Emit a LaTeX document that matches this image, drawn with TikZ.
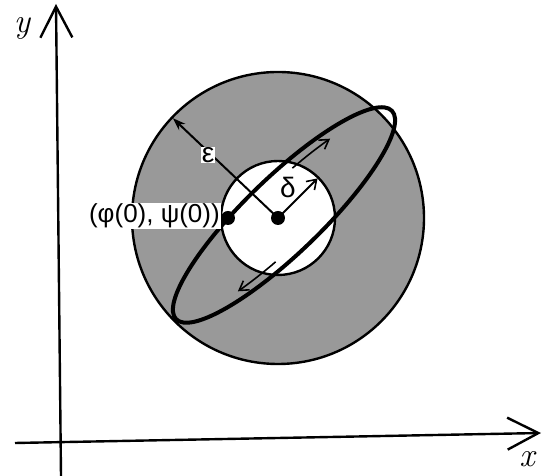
\documentclass[tikz,border=0pt]{standalone}
\usepackage{fontspec}
\newfontfamily\lab{Liberation Sans}
\usetikzlibrary{arrows.meta}
\definecolor{ringgray}{gray}{0.6}
\begin{document}
\begin{tikzpicture}[x=1pt,y=1pt,
  axis/.style={line width=2.4pt, -{Straight Barb[length=31pt,width=32pt,line width=2.4pt]}},
  ringline/.style={line width=2.4pt},
  orbit/.style={line width=4pt},
  radarrow/.style={line width=2pt},
  dirarrow/.style={line width=1.6pt, -{Straight Barb[length=9pt,width=11pt,line width=1.6pt]}},
  dotnode/.style={circle, fill=black, inner sep=0pt, minimum size=14pt},
  lbl/.style={font=\lab\fontsize{26}{30}\selectfont, fill=white, inner sep=1pt},
  glbl/.style={font=\lab\fontsize{28}{32}\selectfont, fill=white, inner sep=0.5pt},
  axlbl/.style={font=\itshape\fontsize{34}{38}\selectfont, inner sep=0pt},
]
\useasboundingbox (0,0) rectangle (542,476);
% axes
\coordinate (yb) at (61,0);
\coordinate (yt) at (56,472);
\coordinate (xl) at (15,33);
\coordinate (xr) at (541,43);
\draw[axis] (yb) -- (yt);
\draw[axis] (xl) -- (xr);
\node[axlbl] (ylab) at (22,448) {y};
\node[axlbl, anchor=base] (xlab) at (527,9) {x};
% ring
\coordinate (O) at (278,258);
\fill[ringgray, even odd rule] (O) circle[radius=146] (O) circle[radius=57];
\draw[ringline] (O) circle[radius=146];
\draw[ringline] (O) circle[radius=57];
% orbit
\coordinate (E) at (284,261);
\draw[orbit, rotate around={44:(E)}] (E) ellipse[x radius=150, y radius=38];
\begin{scope}[shift={(E)}, rotate=44]
  \draw[dirarrow] (74:140 and 29) coordinate (ua) arc[start angle=74, end angle=52, x radius=140, y radius=29];
  \draw[dirarrow] (254:140 and 29) coordinate (la) arc[start angle=254, end angle=232, x radius=140, y radius=29];
\end{scope}
% radii
\coordinate (epsend) at ([shift={(136.5:145)}]O);
\coordinate (delend) at ([shift={(45:56)}]O);
\draw[radarrow, -{Stealth[length=13pt,width=9pt]}] (O) -- (epsend);
\draw[radarrow, -{Straight Barb[length=9pt,width=12pt,line width=1.6pt]}] (O) -- (delend);
% points
\node[dotnode] (c) at (O) {};
\node[dotnode] (p0) at (228,258) {};
% labels
\node[glbl] (epslab) at (208,321) {ε};
\node[glbl, fill=none] (dellab) at (288,289) {δ};
\node[lbl, anchor=east] (plab) at (221,260) {(φ(0), ψ(0))};
\end{tikzpicture}
\end{document}
